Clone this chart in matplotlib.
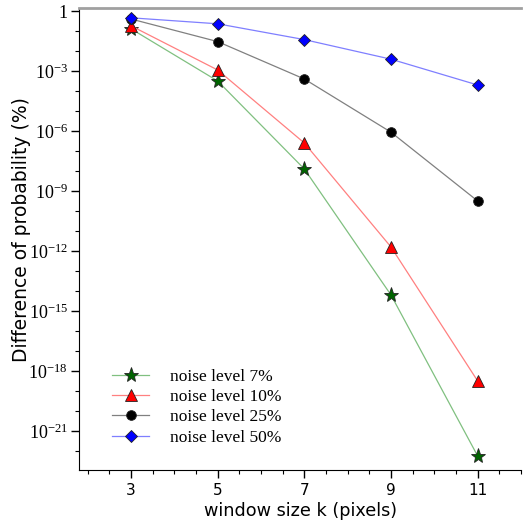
import numpy as np
import matplotlib
matplotlib.use("Agg")
import matplotlib.pyplot as plt
from matplotlib.ticker import FixedLocator, NullFormatter

# window sizes and log10 of the difference of probability
k = [3, 5, 7, 9, 11]
labels = ['noise level 7%', 'noise level 10%', 'noise level 25%', 'noise level 50%']
log_7 = [-0.89, -3.5, -7.9, -14.2, -22.25]
log_10 = [-0.74, -2.95, -6.6, -11.8, -18.5]
log_25 = [-0.4, -1.53, -3.4, -6.06, -9.5]
log_50 = [-0.34, -0.64, -1.43, -2.41, -3.7]

series = [log_7, log_10, log_25, log_50]
line_cols = ['#80c080', '#ff8080', '#808080', '#7f7fff']
face_cols = ['#006400', '#ff0000', '#000000', '#0000ff']
markers = ['*', '^', 'o', 'D']
msizes = [11, 9, 7, 6]

fig = plt.figure(figsize=(5.23, 5.32), dpi=100)
ax = fig.add_axes([79/523, 62/532, 442/523, 462/532])

for s, lc, fc, m, ms, lab in zip(series, line_cols, face_cols, markers, msizes, labels):
    ax.plot(k, 10.0**np.array(s), color=lc, lw=0.9, marker=m, ms=ms,
            mfc=fc, mec='#222222', mew=0.6, label=lab)

ax.set_yscale('log')
ax.set_xlim(1.8, 12)
ax.set_ylim(10**-22.95, 10**0.15)

ax.xaxis.set_major_locator(FixedLocator(k))
ax.xaxis.set_minor_locator(FixedLocator(np.arange(2.0, 12.01, 0.5)))
yt = [10.0**e for e in range(0, -22, -3)]
ax.yaxis.set_major_locator(FixedLocator(yt))
ax.yaxis.set_minor_locator(FixedLocator([10.0**e for e in range(-23, 1)]))
ax.yaxis.set_minor_formatter(NullFormatter())
ylabs = ['1'] + [r'$\mathregular{10^{%d}}$' % e for e in range(-3, -22, -3)]
ax.set_yticklabels(ylabs, fontfamily='Liberation Serif', fontsize=13)
ax.set_xticklabels([str(v) for v in k], fontsize=11)

ax.tick_params(which='major', direction='out', length=6, width=1)
ax.tick_params(which='minor', direction='out', length=3, width=0.8)
ax.tick_params(axis='y', which='major', pad=2)

ax.spines['right'].set_visible(False)
ax.spines['top'].set_color('#a0a0a0')
ax.spines['top'].set_linewidth(2)

ax.set_xlabel('window size k (pixels)', fontsize=12.7, labelpad=3)
ax.set_ylabel('Difference of probability (%)', fontsize=13.5)
ax.yaxis.set_label_coords(-0.108, 0.52)

ax.legend(loc='lower left', bbox_to_anchor=(0.039, 0.019), frameon=False,
          prop={'family': 'Liberation Serif', 'size': 12.5}, handlelength=2.15,
          handletextpad=1.2, labelspacing=0.24)

fig.savefig('out.png', dpi=100)
